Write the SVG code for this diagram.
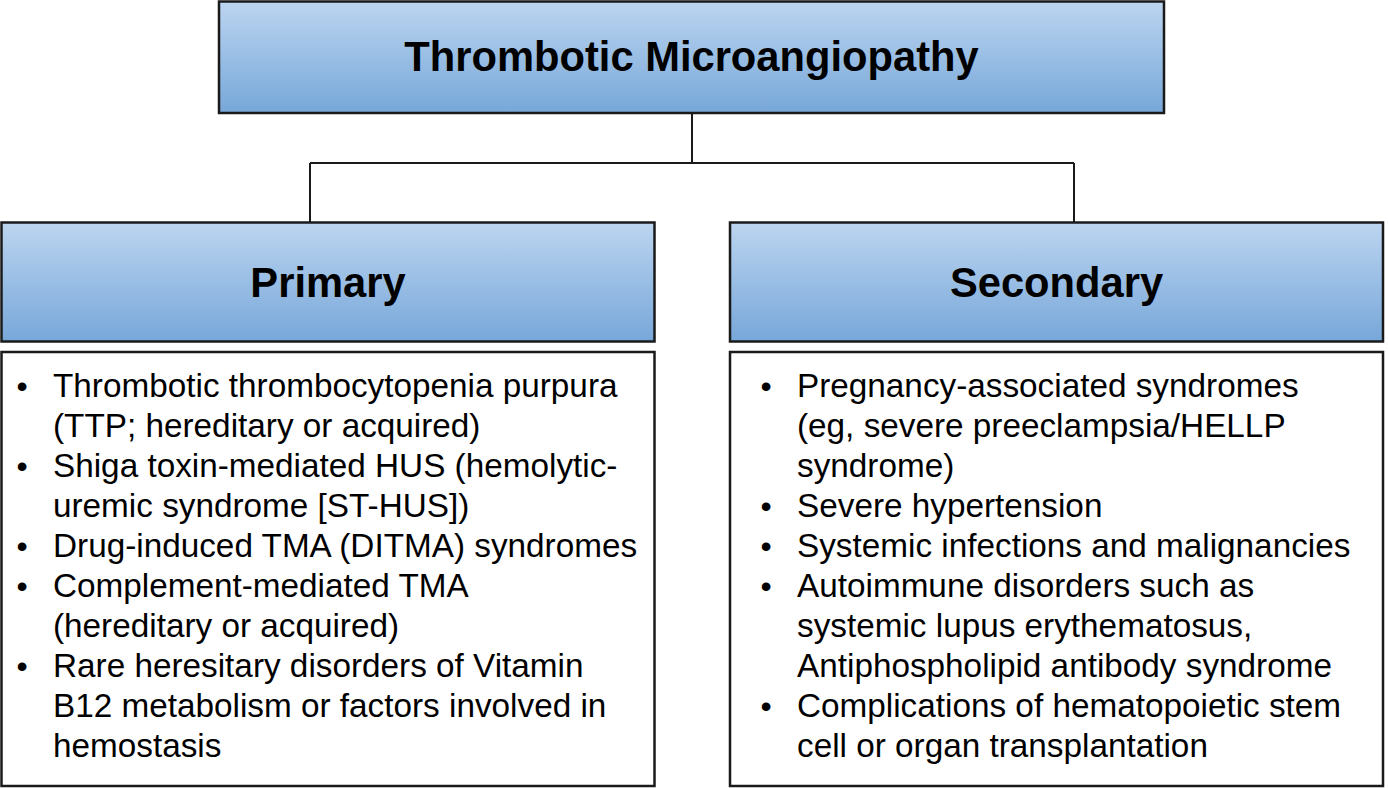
<svg xmlns="http://www.w3.org/2000/svg" width="1388" height="788" viewBox="0 0 1388 788">
<defs>
<linearGradient id="blue" x1="0" y1="0" x2="0" y2="1">
<stop offset="0" stop-color="#bcd5f0"/>
<stop offset="1" stop-color="#77a7d9"/>
</linearGradient>
<style>
.hdr{fill:url(#blue);stroke:#1a1a1a;stroke-width:2.5}
.box{fill:#ffffff;stroke:#1a1a1a;stroke-width:2.5}
.conn{fill:none;stroke:#1a1a1a;stroke-width:2}
.title{font-family:"Liberation Sans",Arial,sans-serif;font-weight:bold;font-size:41.7px;fill:#000;text-anchor:middle}
.item{font-family:"Liberation Sans",Arial,sans-serif;font-size:33.3px;fill:#000}
.bul{font-family:"Liberation Sans",Arial,sans-serif;font-size:32px;fill:#000;text-anchor:middle}
</style>
</defs>
<rect width="1388" height="788" fill="#ffffff"/>
<g id="connectors">
<path class="conn" d="M692 113 V163 M310 163 H1074 M310 163 V222 M1074 163 V222"/>
</g>
<g id="node-tma">
<rect class="hdr" x="219" y="1.5" width="945" height="111.5"/>
<text class="title" x="691.5" y="71">Thrombotic Microangiopathy</text>
</g>
<g id="node-primary">
<rect class="hdr" x="1.5" y="222.5" width="653" height="119"/>
<text class="title" x="328" y="297">Primary</text>
</g>
<g id="node-secondary">
<rect class="hdr" x="730" y="222.5" width="653" height="119"/>
<text class="title" x="1056.5" y="297">Secondary</text>
</g>
<g id="node-primary-list">
<rect class="box" x="1.5" y="352" width="653" height="434"/>
<text class="bul" x="22" y="397">•</text>
<text class="bul" x="22" y="477">•</text>
<text class="bul" x="22" y="557">•</text>
<text class="bul" x="22" y="597">•</text>
<text class="bul" x="22" y="677">•</text>
<text class="item" x="53" y="397">Thrombotic thrombocytopenia purpura</text>
<text class="item" x="53" y="437">(TTP; hereditary or acquired)</text>
<text class="item" x="53" y="477">Shiga toxin-mediated HUS (hemolytic-</text>
<text class="item" x="53" y="517">uremic syndrome [ST-HUS])</text>
<text class="item" x="53" y="557">Drug-induced TMA (DITMA) syndromes</text>
<text class="item" x="53" y="597">Complement-mediated TMA</text>
<text class="item" x="53" y="637">(hereditary or acquired)</text>
<text class="item" x="53" y="677">Rare heresitary disorders of Vitamin</text>
<text class="item" x="53" y="717">B12 metabolism or factors involved in</text>
<text class="item" x="53" y="757">hemostasis</text>
</g>
<g id="node-secondary-list">
<rect class="box" x="730" y="352" width="653" height="434"/>
<text class="bul" x="766" y="397">•</text>
<text class="bul" x="766" y="517">•</text>
<text class="bul" x="766" y="557">•</text>
<text class="bul" x="766" y="597">•</text>
<text class="bul" x="766" y="717">•</text>
<text class="item" x="797" y="397">Pregnancy-associated syndromes</text>
<text class="item" x="797" y="437">(eg, severe preeclampsia/HELLP</text>
<text class="item" x="797" y="477">syndrome)</text>
<text class="item" x="797" y="517">Severe hypertension</text>
<text class="item" x="797" y="557">Systemic infections and malignancies</text>
<text class="item" x="797" y="597">Autoimmune disorders such as</text>
<text class="item" x="797" y="637">systemic lupus erythematosus,</text>
<text class="item" x="797" y="677">Antiphospholipid antibody syndrome</text>
<text class="item" x="797" y="717">Complications of hematopoietic stem</text>
<text class="item" x="797" y="757">cell or organ transplantation</text>
</g>
</svg>
